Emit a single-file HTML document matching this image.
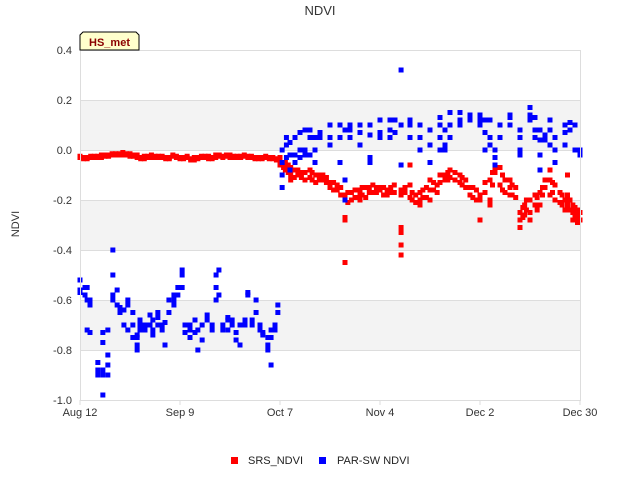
<!DOCTYPE html>
<html><head><meta charset="utf-8"><style>
body{margin:0;background:#fff;font-family:"Liberation Sans",sans-serif;}
svg{display:block}
</style></head><body>
<svg id="chart" width="640" height="480" xmlns="http://www.w3.org/2000/svg">
<text x="320" y="15" text-anchor="middle" font-size="13" fill="#333">NDVI</text>
<text x="19" y="224" text-anchor="middle" font-size="11" fill="#333" transform="rotate(-90 19 224)">NDVI</text>
<g id="bands"></g><g id="grid"></g><g id="ticks"></g><g id="marks"></g>
<rect x="80.5" y="50.5" width="500" height="350" fill="none" stroke="#ddd"/>
<g>
<path d="M83 32 H136 L139 35 V50 H80 V35 Z" fill="#ffffcc" stroke="#000" stroke-width="1"/>
<text x="109.5" y="46" text-anchor="middle" font-size="11" font-weight="bold" fill="#8b0000">HS_met</text>
</g>
<g>
<g><rect x="231" y="457" width="7" height="7" fill="#f00"/><text x="248" y="464" font-size="11" fill="#222">SRS_NDVI</text></g>
<g><rect x="319" y="457" width="7" height="7" fill="#00f"/><text x="337" y="464" font-size="11" fill="#222">PAR-SW NDVI</text></g>
</g>
</svg>
<script>
const yTicks=[0.4,0.2,0.0,-0.2,-0.4,-0.6,-0.8,-1.0];
const yTickLabels=["0.4","0.2","0.0","-0.2","-0.4","-0.6","-0.8","-1.0"];
const xTickDays=[0,28,56,84,112,140];
const xTickLabels=["Aug 12","Sep 9","Oct 7","Nov 4","Dec 2","Dec 30"];
const srsDays=[0,1,2,3,4,5,6,7,8,9,10,11,12,13,14,15,16,17,18,19,20,21,22,23,24,25,26,27,28,29,30,31,32,33,34,35,36,37,38,39,40,41,42,43,44,45,46,47,48,49,50,51,52,53,54,55,56,57,57.5,58.3,59,60,61,62,63,64.4,65,66,67,68,69,70,71,72,73,74.2,75,76,77,78.4,79,80,81,82,83,84,85,86,87,88,89.9,91,92.4,93,94,95.2,96,97,98,99,100,100.8,102.2,103,103.6,105,106.4,107,108,109.2,110,111,112,113.4,114.8,115.5,116.2,117.6,118.3,119,120.4,121,122,123.2,124,124.5,125,126,127.4,128,128.8,129.5,130.2,131.6,132.3,133,134.4,135,135.8,136.5,137.2,138,138.6,139.3,140];
const srsVals=[[-0.03,-0.025],[-0.035,-0.03],[-0.03,-0.035],[-0.03,-0.025],[-0.025,-0.03],[-0.025,-0.03],[-0.03,-0.02],[-0.025,-0.02],[-0.02,-0.025],[-0.02,-0.015],[-0.015,-0.02],[-0.02,-0.015],[-0.02,-0.01],[-0.02,-0.015],[-0.025,-0.015],[-0.02,-0.025],[-0.03,-0.02],[-0.03,-0.035],[-0.025,-0.035],[-0.03,-0.025],[-0.02,-0.03],[-0.025,-0.03],[-0.03,-0.025],[-0.03,-0.025],[-0.03,-0.035],[-0.03,-0.035],[-0.025,-0.02],[-0.03,-0.025],[-0.035,-0.03],[-0.035,-0.03],[-0.03,-0.025],[-0.035,-0.04],[-0.04,-0.03],[-0.035,-0.03],[-0.03,-0.025],[-0.03,-0.025],[-0.025,-0.035],[-0.03,-0.035],[-0.03,-0.02],[-0.025,-0.02],[-0.025,-0.03],[-0.02,-0.025],[-0.02,-0.03],[-0.025,-0.03],[-0.03,-0.025],[-0.03,-0.025],[-0.025,-0.02],[-0.03,-0.025],[-0.03,-0.025],[-0.03,-0.035],[-0.035,-0.03],[-0.03,-0.035],[-0.03,-0.025],[-0.03,-0.035],[-0.03,-0.035],[-0.04,-0.035],[-0.04,-0.03,-0.06],[-0.05,-0.07],[-0.05,-0.08],[-0.06,-0.09],[-0.07,-0.1,-0.12],[-0.08,-0.11],[-0.08,-0.1],[-0.09,-0.11],[-0.09,-0.12],[-0.08,-0.11],[-0.09,-0.12],[-0.1,-0.13],[-0.1,-0.12],[-0.1,-0.12],[-0.11,-0.13],[-0.13,-0.15],[-0.13,-0.16],[-0.14,-0.16],[-0.15,-0.18],[-0.18,-0.2,-0.28,-0.27,-0.45],[-0.17,-0.21],[-0.17,-0.2],[-0.16,-0.19],[-0.16,-0.18,-0.2],[-0.15,-0.18],[-0.15,-0.19],[-0.15,-0.17],[-0.14,-0.17],[-0.15,-0.17],[-0.15,-0.16],[-0.15,-0.18],[-0.16,-0.18],[-0.15,-0.17],[-0.14,-0.17],[-0.18,-0.31,-0.33,-0.38,-0.42,-0.16],[-0.15,-0.17],[-0.19,-0.06,-0.14],[-0.17,-0.2],[-0.18,-0.21],[-0.17,-0.2,-0.22],[-0.16,-0.19],[-0.15,-0.19],[-0.12,-0.16,-0.2],[-0.13,-0.16],[-0.14,-0.17],[-0.13,-0.1],[-0.1,-0.12],[-0.09,-0.12],[-0.08,-0.11],[-0.09,-0.12],[-0.1,-0.13],[-0.11,-0.14],[-0.12,-0.15],[-0.15,-0.18],[-0.15,-0.19],[-0.16,-0.2],[-0.18,-0.28,-0.2],[-0.13,-0.17],[-0.12,-0.2,-0.22],[-0.09,-0.14],[-0.07,-0.09],[-0.07,-0.14],[-0.1,-0.16],[-0.12,-0.17],[-0.12,-0.15,-0.18],[-0.14,-0.18],[-0.15,-0.19],[-0.25,-0.28,-0.31],[-0.23,-0.27],[-0.22,-0.26],[-0.2,-0.24],[-0.2,-0.25,-0.28],[-0.18,-0.22],[-0.19,-0.24],[-0.17,-0.22],[-0.15,-0.18],[-0.15,-0.12],[-0.12,-0.18,-0.08],[-0.13,-0.17],[-0.14,-0.2],[-0.17,-0.21],[-0.18,-0.22],[-0.2,-0.24],[-0.18,-0.22,-0.1],[-0.2,-0.24],[-0.22,-0.25,-0.28],[-0.23,-0.26],[-0.24,-0.27,-0.29],[-0.25,-0.28],[-0.22,-0.27]];
const parDays=[0,1.4,2,2.8,5,6.4,7.8,9.2,10.4,11.2,12.3,13.4,14.8,16,16.8,18.2,19.6,20.4,21.8,23,23.8,24.9,26.3,27.4,28.6,29.4,30.8,32.2,33,34.2,35.6,37,38.1,38.9,40,41.4,42.6,43.7,44.8,46.2,47,48.2,49.3,50.4,51.2,52.6,53.5,54.6,55.4,56.6,57.8,58.8,60.2,61.6,63,64.4,65.8,67.2,70,72.8,74.2,75.6,78.4,81.2,84,86.8,88.2,89.9,92.4,95.2,98,100.8,102.2,103.6,106.4,109.2,112,113.4,114.8,116.2,117.6,120.4,123.2,126,127.4,128.8,130.2,131.6,133,135.8,137.2,138.6,140];
const parVals=[[-0.52,-0.57,-0.56],[-0.55,-0.58],[-0.55,-0.6,-0.72],[-0.6,-0.62,-0.73],[-0.85,-0.88,-0.9],[-0.9,-0.88,-0.77,-0.73,-0.98],[-0.82,-0.9,-0.72,-0.86],[-0.4,-0.5,-0.58,-0.6],[-0.56,-0.62],[-0.63,-0.65],[-0.64,-0.7],[-0.6,-0.62,-0.72],[-0.65,-0.7,-0.75],[-0.78,-0.75,-0.8,-0.74],[-0.68,-0.72,-0.7],[-0.7,-0.72],[-0.66,-0.7],[-0.68,-0.72,-0.74],[-0.65,-0.7,-0.67],[-0.7,-0.72],[-0.69,-0.78],[-0.6,-0.65],[-0.58,-0.62,-0.6],[-0.58,-0.55],[-0.5,-0.48,-0.55],[-0.73,-0.7],[-0.7,-0.72,-0.75],[-0.68,-0.73],[-0.72,-0.8],[-0.76,-0.7],[-0.66,-0.68],[-0.7,-0.72],[-0.5,-0.55,-0.6],[-0.48,-0.58],[-0.7,-0.72],[-0.67,-0.72,-0.68],[-0.7,-0.68],[-0.73,-0.76],[-0.7,-0.78],[-0.68,-0.7],[-0.58,-0.57],[-0.68,-0.7],[-0.6,-0.65],[-0.72,-0.7],[-0.74,-0.73],[-0.78,-0.8,-0.75],[-0.75,-0.72,-0.86],[-0.7,-0.72],[-0.62,-0.65],[0.0,-0.05,-0.1,-0.15],[0.05,0.02,-0.03],[-0.02,0.03,-0.08],[-0.02,0.05,-0.05],[0.0,-0.03,0.07],[0.0,-0.02,0.08],[-0.02,0.05,0.08],[-0.05,0.0,0.05],[0.05,0.07],[0.05,0.02,0.1],[0.05,-0.05,0.1],[-0.12,-0.2,0.08],[0.1,0.05,0.08],[0.02,0.07,0.1],[0.1,0.06,-0.03,-0.05],[0.12,0.05,0.07],[0.08,0.12,0.05],[0.12,0.07],[0.32,0.1,-0.06],[0.12,0.05,0.1],[0.05,0.1,0.0],[0.08,0.02,-0.05],[0.13,0.1,0.05,0.0],[0.0,0.02,0.08],[0.15,0.1,0.05],[0.12,0.15,0.1],[0.12,0.14,0.13],[0.1,0.14,0.12],[0.07,0.12,0.0],[0.05,0.02,0.12],[-0.03,-0.06,0.0],[0.1,0.05],[0.13,0.1,0.14,0.1],[0.05,0.0,-0.02,0.08],[0.12,0.17,0.14],[0.13,0.08,0.05],[-0.02,0.04,-0.08,0.08],[0.04,0.06],[0.02,0.08,0.12],[0.05,0.0,-0.05],[0.1,0.02,0.07],[0.11,0.08],[0.1,0.0],[0.0,-0.02]];
const NS="http://www.w3.org/2000/svg";
const X0=80,X1=580,Y0=50,Y1=400;
function xs(d){return X0+(d/140)*(X1-X0);}
function ys(v){return Y0+(0.4-v)/1.4*(Y1-Y0);}
function mk(tag,attrs,parent){const e=document.createElementNS(NS,tag);for(const k in attrs)e.setAttribute(k,attrs[k]);document.getElementById(parent).appendChild(e);return e;}
[[0.2,0.0],[-0.2,-0.4],[-0.6,-0.8]].forEach(b=>{
 const r=mk('rect',{x:X0,y:ys(b[0]),width:X1-X0,height:ys(b[1])-ys(b[0]),fill:'#f3f3f3'},'bands');
 
 
});
yTicks.forEach((v,i)=>{
 const l=mk('line',{x1:X0,x2:X1,y1:ys(v)+0.5,y2:ys(v)+0.5,stroke:'#ddd'},'grid');
 
 
 const t=mk('text',{x:72,y:ys(v)+4,'text-anchor':'end','font-size':'11',fill:'#333'},'ticks');
 t.textContent=yTickLabels[i];
 
 
});
xTickDays.forEach((d,i)=>{
 const t=mk('text',{x:xs(d),y:416,'text-anchor':'middle','font-size':'11',fill:'#333'},'ticks');
 t.textContent=xTickLabels[i];
 
 
 const l=mk('line',{x1:xs(d),x2:xs(d),y1:400,y2:405,stroke:'#ddd'},'ticks');
 
 
});
function plot(days,vals,color,name){
 days.forEach((d,i)=>{vals[i].forEach(v=>{
  const r=mk('rect',{x:xs(d)-2.5,y:ys(v)-2.5,width:5,height:5,fill:color},'marks');
  
  
 });});
}
plot(srsDays,srsVals,'#f00','srs-ndvi-point');
plot(parDays,parVals,'#00f','par-sw-ndvi-point');
</script>
</body></html>
